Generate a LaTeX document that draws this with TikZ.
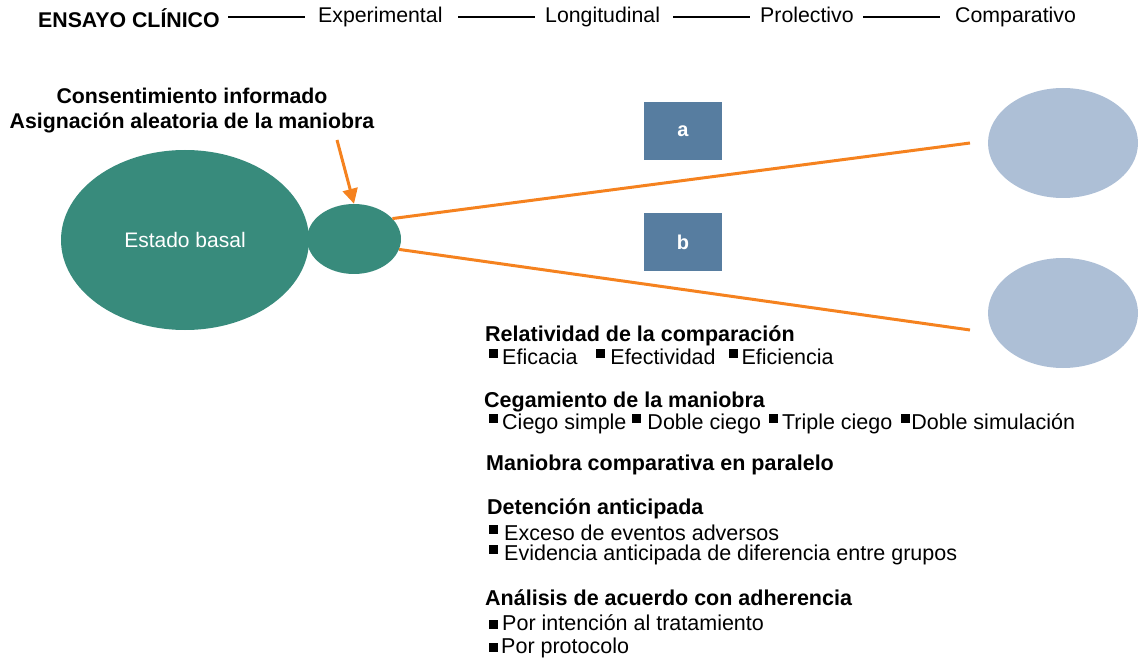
\documentclass[tikz,border=0pt]{standalone}
\usepackage{fontspec}
\setmainfont{Liberation Sans}
\usetikzlibrary{arrows.meta,shapes.geometric}
\definecolor{teal1}{HTML}{388B7C}
\definecolor{armblue}{HTML}{577DA0}
\definecolor{outblue}{HTML}{ADBFD6}
\definecolor{orange1}{HTML}{F5821F}
\newcommand{\sq}{\raisebox{6pt}{\rule{9pt}{9pt}}}
\newcommand{\sqlow}{\raisebox{1.5pt}{\rule{9pt}{9pt}}}
\tikzset{
  hdr/.style={anchor=base west,inner sep=0pt,font=\fontsize{21.3}{24}\selectfont},
  txt/.style={anchor=base west,inner sep=0pt,font=\fontsize{21.5}{24}\selectfont},
  ttl/.style={anchor=base west,inner sep=0pt,font=\fontsize{21.5}{24}\selectfont\bfseries},
  arm/.style={draw=none,fill=armblue,minimum width=78pt,minimum height=58pt,text=white,font=\fontsize{20}{22}\selectfont\bfseries},
  orline/.style={draw=orange1,line width=3pt},
}
\begin{document}
\begin{tikzpicture}[x=1pt,y=-1pt]
\useasboundingbox (0,0) rectangle (1140,660);

% header
\node[hdr,font=\fontsize{21.3}{24}\selectfont\bfseries] (ec) at (38,28) {ENSAYO CLÍNICO};
\node[hdr] (exp) at (318,23) {Experimental};
\node[hdr] (lon) at (545,23) {Longitudinal};
\node[hdr] (pro) at (760,23) {Prolectivo};
\node[hdr] (com) at (955,23) {Comparativo};
\draw[line width=1.5pt] (228,17) -- (305,17);
\draw[line width=1.5pt] (458,17) -- (535,17);
\draw[line width=1.5pt] (673,17) -- (750,17);
\draw[line width=1.5pt] (863,17) -- (940,17);

% randomisation
\node[anchor=base,inner sep=0pt,font=\fontsize{21.3}{24}\selectfont\bfseries] (ci) at (192,104) {Consentimiento informado};
\node[anchor=base,inner sep=0pt,font=\fontsize{21.3}{24}\selectfont\bfseries] (aa) at (192,129) {Asignación aleatoria de la maniobra};

\node[ellipse,fill=teal1,minimum width=248pt,minimum height=180pt,inner sep=0pt,text=white,font=\fontsize{21}{24}\selectfont] (basal) at (185,240) {Estado basal};
\node[ellipse,fill=teal1,minimum width=94pt,minimum height=70pt,inner sep=0pt] (man) at (354,239) {};

\coordinate (astart) at (337,140);
\draw[orange1,line width=3pt,-{Triangle[width=15pt,length=15pt]}] (astart) -- (man.north);

% arms
\node[arm] (a) at (683,131) {a};
\node[arm] (b) at (683,242) {b};

\node[ellipse,fill=outblue,minimum width=150pt,minimum height=110pt,inner sep=0pt] (ra) at (1063,143) {};
\node[ellipse,fill=outblue,minimum width=150pt,minimum height=110pt,inner sep=0pt] (rb) at (1063,313) {};

\coordinate (ea) at (970,143);
\coordinate (eb) at (970,330);
\draw[orline] (man.28) -- (ea);
\draw[orline] (man.-13) -- (eb);

% features
\node[ttl] (t1) at (485,341) {Relatividad de la comparación};
\node[txt] (l1) at (489,364) {\sq\hspace{4pt}Eficacia\hspace{19pt}\sq\hspace{5pt}Efectividad\hspace{13pt}\sq\hspace{4pt}Eficiencia};
\node[ttl] (t2) at (484,407) {Cegamiento de la maniobra};
\node[txt] (l2) at (489,429) {\sq\hspace{4pt}Ciego simple\hspace{6pt}\sq\hspace{6pt}Doble ciego\hspace{8pt}\sq\hspace{4pt}Triple ciego\hspace{9pt}\sq\hspace{1pt}Doble simulación};
\node[ttl] (t3) at (486,470) {Maniobra comparativa en paralelo};
\node[ttl] (t4) at (487,514) {Detención anticipada};
\node[txt] (l4a) at (489,540) {\sq\hspace{6pt}Exceso de eventos adversos};
\node[txt] (l4b) at (489,560) {\sq\hspace{6pt}Evidencia anticipada de diferencia entre grupos};
\node[ttl] (t5) at (485,605) {Análisis de acuerdo con adherencia};
\node[txt] (l5a) at (489,630) {\sqlow\hspace{4pt}Por intención al tratamiento};
\node[txt] (l5b) at (489,653) {\sqlow\hspace{3pt}Por protocolo};
\end{tikzpicture}
\end{document}
